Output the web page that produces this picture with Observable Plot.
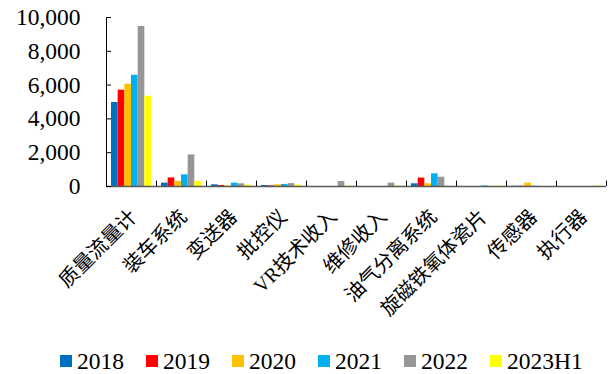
<!DOCTYPE html>
<html><head><meta charset="utf-8">
<script src="https://cdn.jsdelivr.net/npm/d3@7"></script>
<script src="https://cdn.jsdelivr.net/npm/@observablehq/plot@0.6"></script>
<style>
body{margin:0;background:#fff;}
#chart{width:612px;height:374px;font-family:"Liberation Serif","Noto Sans CJK SC",serif;color:#000;}
#plot{height:348px;}
#legend{display:flex;align-items:center;padding-left:60px;height:26px;font-family:"Liberation Serif",serif;font-size:23.5px;line-height:26px;white-space:nowrap;}
.item{display:flex;align-items:center;margin-right:22px;}
.sw{display:inline-block;width:12px;height:12px;margin-right:5px;flex:none;}
</style></head>
<body><div id="chart"><div id="plot"></div><div id="legend"></div></div>
<script>
const categories = ["质量流量计","装车系统","变送器","批控仪","VR技术收入","维修收入","油气分离系统","旋磁铁氧体瓷片","传感器","执行器"];
const series = ["2018","2019","2020","2021","2022","2023H1"];
const colors = ["#0070C0","#FF0000","#FFC000","#00B0F0","#969696","#FFFF00"];
const v2018 = [4970, 200, 100, 60, 0, 0, 160, 0, 15, 0];
const v2019 = [5700, 510, 60, 40, 0, 0, 500, 0, 15, 0];
const v2020 = [6050, 300, 30, 100, 0, 0, 160, 0, 200, 0];
const v2021 = [6580, 690, 200, 120, 0, 0, 750, 30, 15, 0];
const v2022 = [9470, 1870, 160, 170, 300, 200, 550, 0, 0, 0];
const v2023H1 = [5340, 300, 80, 80, 20, 20, 10, 15, 0, 30];
const yTicks = [0, 2000, 4000, 6000, 8000, 10000];

const values = [v2018, v2019, v2020, v2021, v2022, v2023H1];
const data = categories.flatMap((c, i) => series.map((s, j) => ({category: c, series: s, value: values[j][i]})));

const W = 612, H = 344, ML = 106, MR = 6, MT = 17, Y0 = 186;
const bw = (W - ML - MR) / categories.length, pad = 5, bar = (bw - 2 * pad) / series.length;

const bars = series.map((s, j) => Plot.barY(data.filter(d => d.series === s), {
  x: "category", y: "value", fill: colors[j],
  insetLeft: pad + j * bar, insetRight: bw - pad - (j + 1) * bar
}));

const plot = Plot.plot({
  width: W, height: H,
  marginLeft: ML, marginRight: MR, marginTop: MT, marginBottom: H - Y0,
  style: {fontFamily: '"Liberation Serif","Noto Sans CJK SC",serif', color: "#000", background: "#fff"},
  x: {domain: categories, padding: 0},
  y: {domain: [0, 10000]},
  marks: [
    ...bars,
    Plot.ruleY([0], {stroke: "#595959", strokeWidth: 1.5}),
    Plot.frame({anchor: "left", stroke: "#000"}),
    Plot.ruleX(categories, {x: d => d, dx: -bw / 2, y1: 0, y2: 320, stroke: "#000"}),
    Plot.ruleX([categories[categories.length - 1]], {x: d => d, dx: bw / 2, y1: 0, y2: 320, stroke: "#000"}),
    Plot.axisY({ticks: yTicks, tickFormat: d3.format(","), tickSize: 0, tickPadding: 26, fontSize: 23.5, label: null}),
    Plot.tickY(yTicks, {y: d => d, stroke: "#000", insetRight: W - ML - MR - 5}),
    Plot.axisX({tickSize: 0, tickRotate: -45, tickPadding: 27, dx: 2, fontSize: 20, label: null})
  ]
});
document.getElementById("plot").appendChild(plot);

const legend = document.getElementById("legend");
series.forEach((s, j) => {
  const it = document.createElement("div");
  it.className = "item";
  it.innerHTML = `<span class="sw" style="background:${colors[j]}"></span><span>${s}</span>`;
  legend.appendChild(it);
});
</script>
</body></html>
